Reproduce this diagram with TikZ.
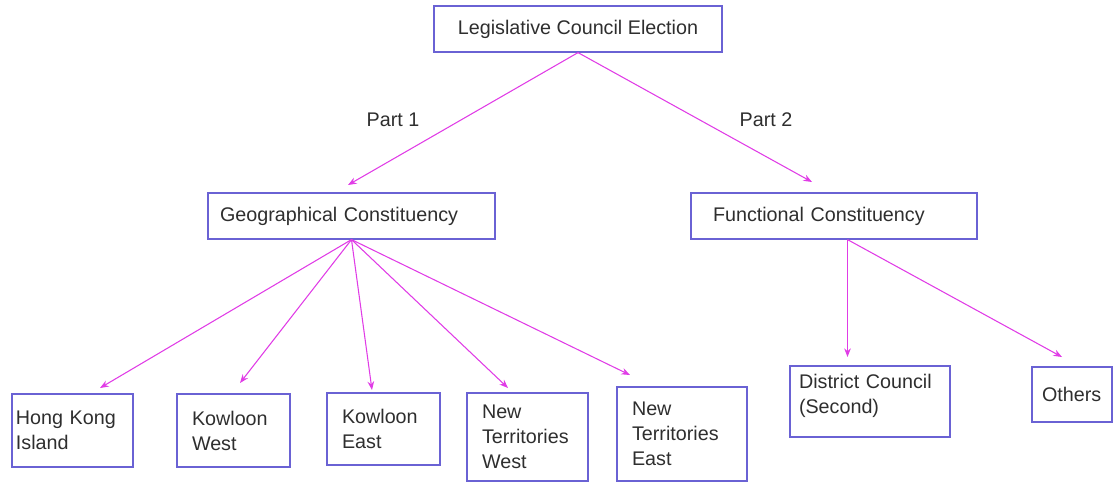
\documentclass[tikz,border=0pt]{standalone}
\usepackage{fontspec}
\setmainfont{Liberation Sans}
\usepackage{xcolor}
\usepackage{tikz}
\usetikzlibrary{arrows,arrows.meta}
\definecolor{boxblue}{HTML}{6A62D4}
\definecolor{linkpink}{HTML}{E03CE6}
\definecolor{txtgray}{HTML}{2E2E2E}

\begin{document}
\begin{tikzpicture}[x=0.75pt,y=-0.75pt,
  font=\fontsize{14.8}{18.75}\selectfont,
  box/.style={draw=boxblue, line width=0.9pt, text=txtgray, align=left, inner ysep=0pt},
  link/.style={color=linkpink, line width=0.8pt, -{Stealth[length=6.5pt,width=5pt]}}]

  \useasboundingbox (0,0) rectangle (1113,482);

  \node[box, align=center, minimum width=216pt, minimum height=34.5pt] (LegCo) at (578,29) {Legislative Council Election};

  \node[box, inner xsep=9pt, text width=197.25pt, minimum height=34.5pt] (Geo) at (351.5,216) {Geographical Constituency};
  \node[box, inner xsep=16.5pt, text width=181.5pt, minimum height=34.5pt] (Func) at (834,216) {Functional Constituency};

  \node[box, inner xsep=3pt, text width=84.75pt, minimum height=54.75pt] (HKI) at (72.5,430.5) {Hong Kong\\Island};
  \node[box, inner xsep=11.25pt, text width=62.25pt, minimum height=54.75pt] (KlnW) at (233.5,430.5) {Kowloon\\West};
  \node[box, inner xsep=11.25pt, text width=62.25pt, minimum height=54pt] (KlnE) at (383.5,429) {Kowloon\\East};
  \node[box, inner xsep=11.25pt, text width=68.25pt, minimum height=66pt] (NTW) at (527.5,437) {New\\Territories\\West};
  \node[box, inner xsep=11.25pt, text width=75pt, minimum height=70.5pt] (NTE) at (682,434) {New\\Territories\\East};
  \node[box, inner xsep=6.75pt, text width=106.5pt, minimum height=53.25pt, text depth=29.5pt] (DC) at (870,401.5) {District Council\\(Second)};
  \node[box, inner xsep=7.5pt, text width=45pt, minimum height=41.25pt] (Others) at (1072,394.5) {Others};

  \node[text=txtgray] (PartA) at (393,120) {Part 1};
  \node[text=txtgray] (PartB) at (766,120) {Part 2};

  % arrow tips stop short of the boxes
  \coordinate (GeoTip) at (348,185);
  \coordinate (FuncTip) at (812,182);
  \coordinate (HKITip) at (100,388);
  \coordinate (KlnWTip) at (240,383);
  \coordinate (KlnETip) at (372,390);
  \coordinate (NTWTip) at (508,388);
  \coordinate (NTETip) at (630,375);
  \coordinate (DCTip) at (847.5,357);
  \coordinate (OthersTip) at (1062,357);
  \coordinate (FuncOut) at (Func.south -| DCTip);

  \path[link]
    (LegCo.south) edge (GeoTip)
                  edge (FuncTip)
    (Geo.south) edge (HKITip)
                edge (KlnWTip)
                edge (KlnETip)
                edge (NTWTip)
                edge (NTETip)
    (FuncOut) edge (DCTip)
              edge (OthersTip);

\end{tikzpicture}
\end{document}
